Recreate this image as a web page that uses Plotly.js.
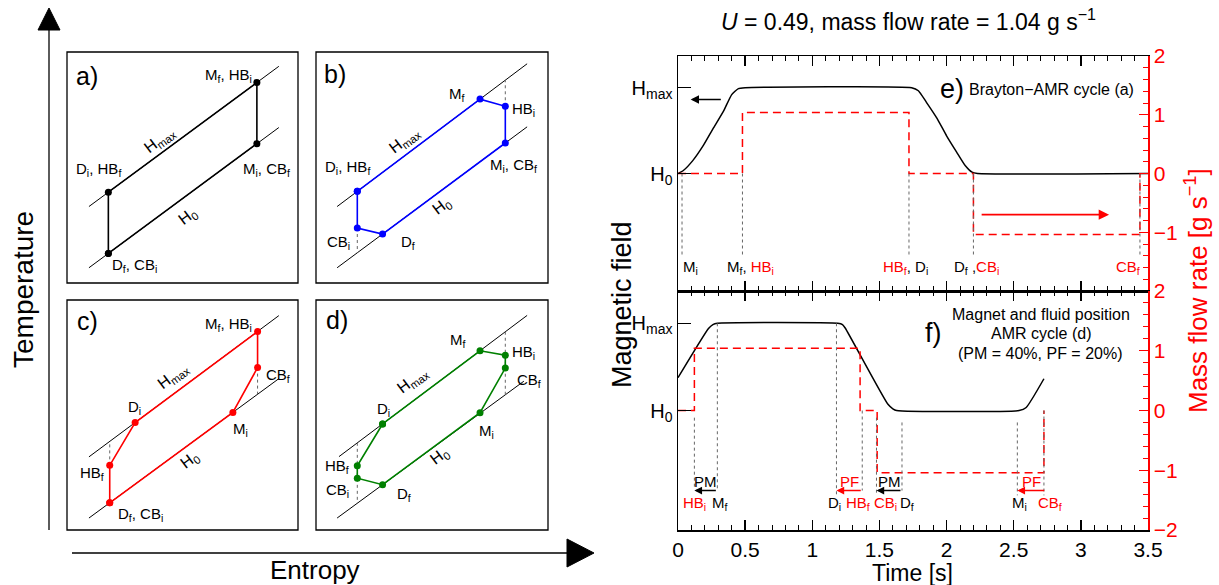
<!DOCTYPE html>
<html><head><meta charset="utf-8">
<script src="https://cdn.plot.ly/plotly-3.0.1.min.js"></script>
<style>html,body{margin:0;padding:0;background:#fff}#chart{width:1219px;height:585px}</style>
</head><body><div id="chart"></div>
<script>
// ================= DATA =================
// Panel e: Brayton-AMR cycle (time in s; field as fraction between H0 (0) and Hmax (1))
const eFieldTime = [0, 0.04, 0.11, 0.19, 0.26, 0.34, 0.40, 0.45, 0.50, 1.74, 1.79, 1.85, 1.93, 2.00, 2.075, 2.14, 2.19, 2.23, 3.50];
const eFieldFrac = [0, 0.035, 0.15, 0.33, 0.52, 0.73, 0.92, 0.99, 1, 1, 0.965, 0.83, 0.64, 0.44, 0.25, 0.09, 0.015, 0, 0];
const eFlowTime = [0, 0.48, 0.48, 1.72, 1.72, 2.20, 2.20, 3.44, 3.44];
const eFlowRate = [0, 0, 1.04, 1.04, 0, 0, -1.04, -1.04, 0];
const eEventTimes = [0.03, 0.48, 1.72, 2.20, 3.44];

// Panel f: magnet and fluid position AMR cycle
const fFieldTime = [0, 0.227, 0.26, 0.293, 1.19, 1.225, 1.245, 1.562, 1.60, 1.628, 2.54, 2.593, 2.725];
const fFieldFrac = [0.376, 0.94, 0.985, 1, 1, 0.985, 0.946, 0.074, 0.02, 0, 0, 0.035, 0.364];
const fFlowTime = [0, 0.122, 0.122, 1.356, 1.356, 1.483, 1.483, 2.725, 2.725];
const fFlowRate = [0, 0, 1.04, 1.04, 0, 0, -1.04, -1.04, 0];
const fEventTimes = [0.122, 0.293, 1.18, 1.372, 1.478, 1.668, 2.527, 2.725];

// Hmax in mass-flow units (alignment of the two y axes)
const hmaxOnFlowAxis = 1.46;
const massFlow = 1.04;

// Schematic T-s cycles (entropy s, temperature T, normalised inside each box)
const cycleA_S = [0.179, 0.179, 0.822, 0.822, 0.179];
const cycleA_T = [0.128, 0.393, 0.868, 0.603, 0.128];
const cycleB_S = [0.178, 0.707, 0.816, 0.816, 0.287, 0.178, 0.178];
const cycleB_T = [0.397, 0.796, 0.765, 0.606, 0.212, 0.238, 0.397];
const cycleC_S = [0.185, 0.185, 0.295, 0.825, 0.825, 0.718, 0.185];
const cycleC_T = [0.118, 0.281, 0.467, 0.863, 0.706, 0.511, 0.118];
const cycleD_S = [0.287, 0.707, 0.816, 0.816, 0.707, 0.287, 0.178, 0.178, 0.287];
const cycleD_T = [0.461, 0.779, 0.760, 0.704, 0.510, 0.197, 0.225, 0.279, 0.461];
// isofield lines: [s0, T0, s1, T1]
const isoHmax = {a:[0.095,0.331,0.917,0.938], b:[0.091,0.331,0.910,0.949], c:[0.095,0.318,0.917,0.932], d:[0.099,0.319,0.910,0.933]};
const isoH0   = {a:[0.095,0.066,0.917,0.673], b:[0.091,0.066,0.910,0.676], c:[0.095,0.052,0.917,0.658], d:[0.091,0.052,0.896,0.647]};

// ================= LAYOUT HELPERS =================
const W = 1219, H = 585;
const px = x => x / W, py = y => 1 - y / H;
const FONT = 'Liberation Sans, Arial, Helvetica, sans-serif';
const RED = '#ff0000';

const traces = [];
const annotations = [];
const shapes = [];

// ---------- right panels ----------
const xDom = [px(678), px(1148)];
const eDom = [py(291), py(56)];
const fDom = [py(530), py(291)];

function timeAxis(anchor, labels) {
  return {domain: xDom, anchor: anchor, range: [0, 3.5], dtick: 0.5, tick0: 0,
    ticks: 'inside', ticklen: 10, tickwidth: 1.3, tickcolor: '#000',
    minor: {dtick: 0.1, tick0: 0, ticks: 'inside', ticklen: 5, tickcolor: '#000', tickwidth: 1},
    showline: true, linecolor: '#000', linewidth: 1.5, mirror: 'ticks',
    showgrid: false, zeroline: false, showticklabels: labels,
    tickfont: {size: 21, color: '#000', family: FONT}, fixedrange: true};
}
function fieldAxis(dom, anchor) {
  const r = 2 / hmaxOnFlowAxis;
  return {domain: dom, anchor: anchor, range: [-r, r], tickmode: 'array', tickvals: [0, 1],
    ticktext: ['H<sub>0</sub>', 'H<sub>max</sub>'], ticks: 'inside', ticklen: 13, tickcolor: '#000',
    tickwidth: 1.2, showline: true, linecolor: '#000', linewidth: 1.5, mirror: false,
    showgrid: false, zeroline: false, tickfont: {size: 20, color: '#000', family: FONT}, fixedrange: true};
}
function flowAxis(over, anchor, vals, txt) {
  return {overlaying: over, anchor: anchor, side: 'right', range: [-2, 2], tickmode: 'array',
    tickvals: vals, ticktext: txt, ticks: 'inside', ticklen: 9, tickcolor: RED, tickwidth: 1.2,
    minor: {dtick: 0.2, tick0: 0, ticks: 'inside', ticklen: 5, tickcolor: RED, tickwidth: 1},
    showline: true, linecolor: RED, linewidth: 1.5, showgrid: false, zeroline: false,
    tickfont: {size: 21, color: RED, family: FONT}, fixedrange: true};
}

// Panel e traces
traces.push({x: eFieldTime, y: eFieldFrac, xaxis: 'x', yaxis: 'y', mode: 'lines', line: {color: '#000', width: 1.5, shape: 'spline', smoothing: 0.5}});
traces.push({x: eFlowTime, y: eFlowRate, xaxis: 'x', yaxis: 'y2', mode: 'lines', line: {color: RED, width: 1.5, dash: '8px,5px'}});
(function () {
  const xs = [], ys = [];
  eEventTimes.forEach(t => { xs.push(t, t, null); ys.push(0, -1.38, null); });
  traces.push({x: xs, y: ys, xaxis: 'x', yaxis: 'y2', mode: 'lines', line: {color: '#666', width: 1, dash: 'dot'}});
})();

// Panel f traces
traces.push({x: fFieldTime, y: fFieldFrac, xaxis: 'x2', yaxis: 'y3', mode: 'lines', line: {color: '#000', width: 1.5, shape: 'spline', smoothing: 0.5}});
traces.push({x: fFlowTime, y: fFlowRate, xaxis: 'x2', yaxis: 'y4', mode: 'lines', line: {color: RED, width: 1.5, dash: '8px,5px'}});
(function () {
  const tops = [-0.12, hmaxOnFlowAxis, hmaxOnFlowAxis, 0, -0.12, -0.2, -0.2, 0];
  const bots = [-1.3, -1.34, -1.42, -1.34, -1.42, -1.34, -1.42, -1.42];
  const xs = [], ys = [];
  fEventTimes.forEach((t, i) => { xs.push(t, t, null); ys.push(tops[i], bots[i], null); });
  traces.push({x: xs, y: ys, xaxis: 'x2', yaxis: 'y4', mode: 'lines', line: {color: '#666', width: 1, dash: 'dot'}});
})();

// Panel e annotations
const lab = (x, y, text, xr, yr, size, extra) => Object.assign({x: x, y: y, xref: xr, yref: yr, text: text, showarrow: false,
  xanchor: 'center', yanchor: 'middle', font: {size: size, color: '#000', family: FONT}}, extra || {});
const red = s => '<span style="color:#ff0000">' + s + '</span>';

annotations.push(lab(2.04, 1.43, 'e)', 'x', 'y2', 27));
annotations.push(lab(2.15, 1.43, 'Brayton−AMR cycle (a)', 'x', 'y2', 16, {xanchor: 'left'}));
annotations.push(lab(eEventTimes[0] + 0.065, -1.6, 'M<sub>i</sub>', 'x', 'y2', 15));
annotations.push(lab(eEventTimes[1] + 0.06, -1.6, 'M<sub>f</sub>, ' + red('HB<sub>i</sub>'), 'x', 'y2', 15));
annotations.push(lab(eEventTimes[2] - 0.025, -1.6, red('HB<sub>f</sub>') + ', D<sub>i</sub>', 'x', 'y2', 15));
annotations.push(lab(eEventTimes[3] + 0.02, -1.6, 'D<sub>f</sub> ,' + red('CB<sub>i</sub>'), 'x', 'y2', 15));
annotations.push(lab(eEventTimes[4] - 0.09, -1.6, red('CB<sub>f</sub>'), 'x', 'y2', 15));
annotations.push({x: 0.094, y: 1.26, ax: 0.33, ay: 1.26, xref: 'x', yref: 'y2', axref: 'x', ayref: 'y2', text: '',
  showarrow: true, arrowhead: 2, arrowsize: 1.2, arrowwidth: 1.4, arrowcolor: '#000'});
annotations.push({x: 3.21, y: -0.70, ax: 2.25, ay: -0.70, xref: 'x', yref: 'y2', axref: 'x', ayref: 'y2', text: '',
  showarrow: true, arrowhead: 2, arrowsize: 1.3, arrowwidth: 1.6, arrowcolor: RED});

// Panel f annotations
annotations.push(lab(1.906, 1.29, 'f)', 'x2', 'y4', 27));
annotations.push(lab(2.70, 1.61, 'Magnet and fluid position', 'x2', 'y4', 16));
annotations.push(lab(2.70, 1.29, 'AMR cycle (d)', 'x2', 'y4', 16));
annotations.push(lab(2.70, 0.96, '(PM = 40%, PF = 20%)', 'x2', 'y4', 16));
const fArrows = [[0.122, 0.293, '#000', 'PM'], [1.18, 1.372, RED, 'PF'], [1.478, 1.668, '#000', 'PM'], [2.527, 2.739, RED, 'PF']];
fArrows.forEach(a => {
  annotations.push({x: a[0], y: -1.34, ax: a[1], ay: -1.34, xref: 'x2', yref: 'y4', axref: 'x2', ayref: 'y4', text: '',
    showarrow: true, arrowhead: 2, arrowsize: 1.1, arrowwidth: 1.4, arrowcolor: a[2]});
  annotations.push(lab((a[0] + a[1]) / 2, -1.19, a[3], 'x2', 'y4', 15, {font: {size: 15, color: a[2], family: FONT}}));
});
const fLabels = [[0.122, red('HB<sub>i</sub>')], [0.31, 'M<sub>f</sub>'], [1.166, 'D<sub>i</sub>'], [1.34, red('HB<sub>f</sub>')],
  [1.545, red('CB<sub>i</sub>')], [1.705, 'D<sub>f</sub>'], [2.54, 'M<sub>i</sub>'], [2.77, red('CB<sub>f</sub>')]];
fLabels.forEach(l => annotations.push(lab(l[0], -1.55, l[1], 'x2', 'y4', 15)));

// Axis titles and figure title
const paperLab = (x, y, text, size, color, angle) => ({x: px(x), y: py(y), xref: 'paper', yref: 'paper', showarrow: false,
  xanchor: 'center', yanchor: 'middle', textangle: angle || 0, text: text, font: {size: size, color: color, family: FONT}});
annotations.push(paperLab(908, 20, '<i>U</i> = 0.49, mass flow rate = ' + massFlow.toFixed(2) + ' g s<sup>−1</sup>', 23, '#000'));
annotations.push(paperLab(622, 305, 'Magnetic field', 27, '#000', -90));
annotations.push(paperLab(1196, 291, 'Mass flow rate [g s<sup>−1</sup>]', 26, RED, -90));
annotations.push(paperLab(912, 573, 'Time [s]', 23, '#000'));

// ---------- left schematic panels ----------
const boxes = [
  {id: 'a', x: [67, 298], y: [52, 283], xa: 'x3', ya: 'y5', S: cycleA_S, T: cycleA_T, color: '#000'},
  {id: 'b', x: [316, 548], y: [52, 283], xa: 'x4', ya: 'y6', S: cycleB_S, T: cycleB_T, color: '#0000ff'},
  {id: 'c', x: [67, 298], y: [300, 530], xa: 'x5', ya: 'y7', S: cycleC_S, T: cycleC_T, color: '#ff0000'},
  {id: 'd', x: [316, 548], y: [300, 530], xa: 'x6', ya: 'y8', S: cycleD_S, T: cycleD_T, color: '#008000'}
];
const boxAxes = {};
boxes.forEach(b => {
  const xk = 'xaxis' + b.xa.slice(1), yk = 'yaxis' + b.ya.slice(1);
  boxAxes[xk] = {domain: [px(b.x[0]), px(b.x[1])], anchor: b.ya, range: [0, 1], visible: false, fixedrange: true};
  boxAxes[yk] = {domain: [py(b.y[1]), py(b.y[0])], anchor: b.xa, range: [0, 1], visible: false, fixedrange: true};
  shapes.push({type: 'rect', xref: b.xa + ' domain', yref: b.ya + ' domain', x0: 0, x1: 1, y0: 0, y1: 1,
    line: {color: '#000', width: 1.3}});
  const hm = isoHmax[b.id], h0 = isoH0[b.id];
  traces.push({x: [hm[0], hm[2], null, h0[0], h0[2]], y: [hm[1], hm[3], null, h0[1], h0[3]], xaxis: b.xa, yaxis: b.ya,
    mode: 'lines', line: {color: '#000', width: 1}});
});

// dotted connectors in b, c, d (vertical from state point to isofield line)
function dotted(b, s, t0, t1) {
  traces.push({x: [s, s], y: [t0, t1], xaxis: b.xa, yaxis: b.ya, mode: 'lines', line: {color: '#666', width: 1, dash: 'dot'}});
}
dotted(boxes[1], cycleB_S[2], cycleB_T[2], 0.878);
dotted(boxes[1], cycleB_S[5], cycleB_T[5], 0.131);
dotted(boxes[2], cycleC_S[1], cycleC_T[1], 0.385);
dotted(boxes[2], cycleC_S[4], cycleC_T[4], 0.590);
dotted(boxes[3], cycleD_S[2], 0.862, 0.588);
dotted(boxes[3], cycleD_S[6], 0.379, 0.116);

boxes.forEach(b => {
  traces.push({x: b.S, y: b.T, xaxis: b.xa, yaxis: b.ya, mode: 'lines+markers',
    line: {color: b.color, width: 1.6}, marker: {color: b.color, size: 7}});
});

const bl = (b, u, v, text, size, extra) => lab(u, v, text, b.xa, b.ya, size || 15, extra);
const ang = {textangle: -37};
// a
annotations.push(bl(boxes[0], 0.087, 0.898, 'a)', 25));
annotations.push(bl(boxes[0], 0.70, 0.90, 'M<sub>f</sub>, HB<sub>i</sub>'));
annotations.push(bl(boxes[0], 0.138, 0.493, 'D<sub>i</sub>, HB<sub>f</sub>'));
annotations.push(bl(boxes[0], 0.862, 0.493, 'M<sub>i</sub>, CB<sub>f</sub>'));
annotations.push(bl(boxes[0], 0.294, 0.074, 'D<sub>f</sub>, CB<sub>i</sub>'));
annotations.push(bl(boxes[0], 0.40, 0.619, 'H<sub>max</sub>', 16, ang));
annotations.push(bl(boxes[0], 0.524, 0.287, 'H<sub>0</sub>', 16, ang));
// b
annotations.push(bl(boxes[1], 0.084, 0.904, 'b)', 25));
annotations.push(bl(boxes[1], 0.606, 0.816, 'M<sub>f</sub>'));
annotations.push(bl(boxes[1], 0.896, 0.75, 'HB<sub>i</sub>'));
annotations.push(bl(boxes[1], 0.135, 0.5, 'D<sub>i</sub>, HB<sub>f</sub>'));
annotations.push(bl(boxes[1], 0.852, 0.507, 'M<sub>i</sub>, CB<sub>f</sub>'));
annotations.push(bl(boxes[1], 0.099, 0.176, 'CB<sub>i</sub>'));
annotations.push(bl(boxes[1], 0.396, 0.176, 'D<sub>f</sub>'));
annotations.push(bl(boxes[1], 0.381, 0.618, 'H<sub>max</sub>', 16, ang));
annotations.push(bl(boxes[1], 0.541, 0.331, 'H<sub>0</sub>', 16, ang));
// c
annotations.push(bl(boxes[2], 0.087, 0.91, 'c)', 25));
annotations.push(bl(boxes[2], 0.70, 0.895, 'M<sub>f</sub>, HB<sub>i</sub>'));
annotations.push(bl(boxes[2], 0.913, 0.67, 'CB<sub>f</sub>'));
annotations.push(bl(boxes[2], 0.291, 0.533, 'D<sub>i</sub>'));
annotations.push(bl(boxes[2], 0.75, 0.436, 'M<sub>i</sub>'));
annotations.push(bl(boxes[2], 0.109, 0.244, 'HB<sub>f</sub>'));
annotations.push(bl(boxes[2], 0.32, 0.067, 'D<sub>f</sub>, CB<sub>i</sub>'));
annotations.push(bl(boxes[2], 0.459, 0.666, 'H<sub>max</sub>', 16, ang));
annotations.push(bl(boxes[2], 0.531, 0.303, 'H<sub>0</sub>', 16, ang));
// d
annotations.push(bl(boxes[3], 0.091, 0.911, 'd)', 25));
annotations.push(bl(boxes[3], 0.613, 0.822, 'M<sub>f</sub>'));
annotations.push(bl(boxes[3], 0.896, 0.77, 'HB<sub>i</sub>'));
annotations.push(bl(boxes[3], 0.917, 0.652, 'CB<sub>f</sub>'));
annotations.push(bl(boxes[3], 0.29, 0.526, 'D<sub>i</sub>'));
annotations.push(bl(boxes[3], 0.736, 0.43, 'M<sub>i</sub>'));
annotations.push(bl(boxes[3], 0.091, 0.274, 'HB<sub>f</sub>'));
annotations.push(bl(boxes[3], 0.091, 0.17, 'CB<sub>i</sub>'));
annotations.push(bl(boxes[3], 0.381, 0.156, 'D<sub>f</sub>'));
annotations.push(bl(boxes[3], 0.417, 0.652, 'H<sub>max</sub>', 16, ang));
annotations.push(bl(boxes[3], 0.533, 0.319, 'H<sub>0</sub>', 16, ang));

// Big Temperature / Entropy arrows
shapes.push({type: 'line', xref: 'paper', yref: 'paper', x0: px(49), x1: px(49), y0: py(530), y1: py(28), line: {color: '#333', width: 1.6}});
shapes.push({type: 'path', xref: 'paper', yref: 'paper', fillcolor: '#000', line: {color: '#000', width: 1},
  path: `M ${px(38)} ${py(30)} L ${px(60)} ${py(30)} L ${px(49)} ${py(8)} Z`});
shapes.push({type: 'line', xref: 'paper', yref: 'paper', x0: px(72), x1: px(568), y0: py(553), y1: py(553), line: {color: '#000', width: 1.6}});
shapes.push({type: 'path', xref: 'paper', yref: 'paper', fillcolor: '#000', line: {color: '#000', width: 1},
  path: `M ${px(567)} ${py(539)} L ${px(567)} ${py(567)} L ${px(594)} ${py(553)} Z`});
annotations.push(paperLab(23, 290, 'Temperature', 28, '#000', -90));
annotations.push(paperLab(315, 570, 'Entropy', 26, '#000'));

const layout = Object.assign({
  width: W, height: H, margin: {l: 0, r: 0, t: 0, b: 0}, paper_bgcolor: '#fff', plot_bgcolor: 'rgba(0,0,0,0)',
  showlegend: false, hovermode: false, font: {family: FONT, color: '#000'},
  xaxis: timeAxis('y', false),
  yaxis: fieldAxis(eDom, 'x'),
  yaxis2: flowAxis('y', 'x', [-2, -1, 0, 1, 2], ['', '−1', '0', '1', '2']),
  xaxis2: timeAxis('y3', true),
  yaxis3: fieldAxis(fDom, 'x2'),
  yaxis4: flowAxis('y3', 'x2', [-2, -1, 0, 1, 2], ['−2', '−1', '0', '1', '2']),
  annotations: annotations, shapes: shapes
}, boxAxes);

Plotly.newPlot('chart', traces, layout, {staticPlot: true, displayModeBar: false});
</script>
</body></html>
